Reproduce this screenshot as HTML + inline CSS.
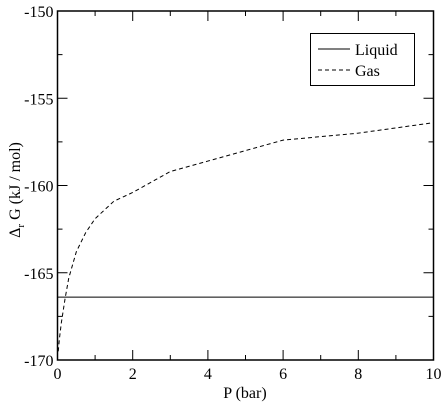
<!DOCTYPE html>
<html><head><meta charset="utf-8"><style>
body{margin:0;background:#fff}
svg text{font-family:"Liberation Serif",serif;fill:#000}
</style></head><body>
<svg width="445" height="406" xmlns="http://www.w3.org/2000/svg">
<g id="ax"></g>
<g id="series"></g>
<g>
<rect x="310.5" y="33.5" width="104" height="52" fill="#fff" stroke="#000"/>
<line x1="318" y1="49" x2="350" y2="49" stroke="#000"/>
<text x="355" y="55" font-size="16">Liquid</text>
<line x1="318" y1="70" x2="350" y2="70" stroke="#000" stroke-dasharray="4,3"/>
<text x="355" y="76" font-size="16">Gas</text>
</g>
<text x="245" y="398" font-size="16" text-anchor="middle">P (bar)</text>
<text transform="translate(20,190) rotate(-90)" font-size="16" text-anchor="middle">Δ<tspan font-size="11" dy="4">r</tspan><tspan dy="-4"> G (kJ / mol)</tspan></text>
</svg>
<script>
const xTicks=[0,2,4,6,8,10];
const yTicks=[-170,-165,-160,-155,-150];
const liquidX=[0,10];
const liquidY=[-166.4,-166.4];
const gasX=[0.02,0.05,0.1,0.2,0.3,0.5,0.75,1,1.5,2,3,4,5,6,8,10];
const gasY=[-169.5,-168.8,-167.9,-166.5,-165.3,-163.8,-162.7,-161.9,-160.9,-160.4,-159.2,-158.6,-158.0,-157.4,-157.0,-156.4];
const L=57.5,R=433.5,T=11,B=360;
const sx=v=>L+(v-0)/(10-0)*(R-L);
const sy=v=>B-(v+170)/20*(B-T);
const NS="http://www.w3.org/2000/svg";
const ax=document.getElementById('ax'),se=document.getElementById('series');
function mk(tag,at,p){const e=document.createElementNS(NS,tag);for(const k in at)e.setAttribute(k,at[k]);p.appendChild(e);return e;}
const fr=mk('rect',{x:L,y:T,width:R-L,height:B-T,fill:'none',stroke:'#000','stroke-width':1.5},ax);


for(let i=0;i<xTicks.length;i++){const v=xTicks[i],x=sx(v);
 mk('line',{x1:x,y1:B,x2:x,y2:B-10,stroke:'#000'},ax);mk('line',{x1:x,y1:T,x2:x,y2:T+10,stroke:'#000'},ax);
 if(i<xTicks.length-1){const m=sx(v+1);mk('line',{x1:m,y1:B,x2:m,y2:B-5,stroke:'#000'},ax);mk('line',{x1:m,y1:T,x2:m,y2:T+5,stroke:'#000'},ax);}
 const t=mk('text',{x:x,y:B+19,'font-size':16,'text-anchor':'middle'},ax);t.textContent=v;
 
 }
for(let i=0;i<yTicks.length;i++){const v=yTicks[i],y=sy(v);
 mk('line',{x1:L,y1:y,x2:L+10,y2:y,stroke:'#000'},ax);mk('line',{x1:R,y1:y,x2:R-10,y2:y,stroke:'#000'},ax);
 if(i<yTicks.length-1){const m=sy(v+2.5);mk('line',{x1:L,y1:m,x2:L+5,y2:m,stroke:'#000'},ax);mk('line',{x1:R,y1:m,x2:R-5,y2:m,stroke:'#000'},ax);}
 const t=mk('text',{x:L-4,y:y+6,'font-size':16,'text-anchor':'end'},ax);t.textContent=v;
 
 }
const lp=mk('polyline',{points:liquidX.map((x,i)=>sx(x)+','+sy(liquidY[i])).join(' '),fill:'none',stroke:'#000'},se);


const gp=mk('polyline',{points:gasX.map((x,i)=>sx(x)+','+sy(gasY[i])).join(' '),fill:'none',stroke:'#000','stroke-dasharray':'4,3'},se);


</script>
</body></html>
